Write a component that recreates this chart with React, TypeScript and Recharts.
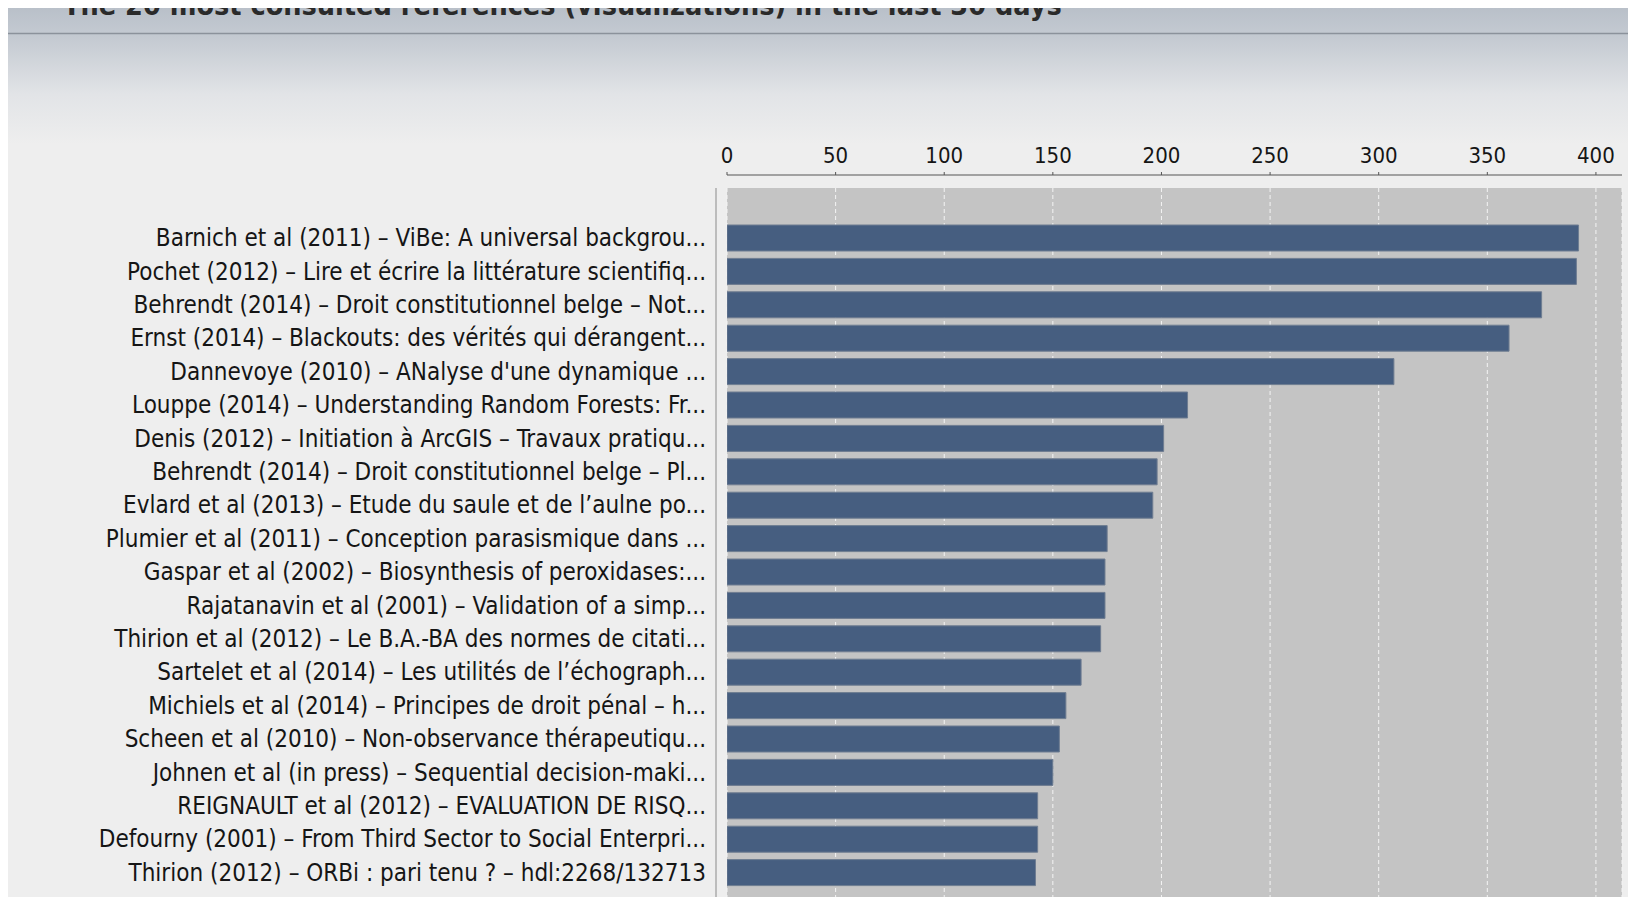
import React from "react";
import { BarChart, Bar, XAxis, YAxis, CartesianGrid } from "recharts";

const chartTitle =
  "The 20 most consulted references (visualizations) in the last 30 days";

const references = [
  "Barnich et al (2011) – ViBe: A universal backgrou...",
  "Pochet (2012) – Lire et écrire la littérature scientifiq...",
  "Behrendt (2014) – Droit constitutionnel belge – Not...",
  "Ernst (2014) – Blackouts: des vérités qui dérangent...",
  "Dannevoye (2010) – ANalyse d'une dynamique ...",
  "Louppe (2014) – Understanding Random Forests: Fr...",
  "Denis (2012) – Initiation à ArcGIS – Travaux pratiqu...",
  "Behrendt (2014) – Droit constitutionnel belge – Pl...",
  "Evlard et al (2013) – Etude du saule et de l’aulne po...",
  "Plumier et al (2011) – Conception parasismique dans ...",
  "Gaspar et al (2002) – Biosynthesis of peroxidases:...",
  "Rajatanavin et al (2001) – Validation of a simp...",
  "Thirion et al (2012) – Le B.A.-BA des normes de citati...",
  "Sartelet et al (2014) – Les utilités de l’échograph...",
  "Michiels et al (2014) – Principes de droit pénal – h...",
  "Scheen et al (2010) – Non-observance thérapeutiqu...",
  "Johnen et al (in press) – Sequential decision-maki...",
  "REIGNAULT et al (2012) – EVALUATION DE RISQ...",
  "Defourny (2001) – From Third Sector to Social Enterpri...",
  "Thirion (2012) – ORBi : pari tenu ? – hdl:2268/132713",
];

const visualizations = [
  392, 391, 375, 360, 307, 212, 201, 198, 196, 175, 174, 174, 172, 163, 156,
  153, 150, 143, 143, 142,
];

const xTicks = [0, 50, 100, 150, 200, 250, 300, 350, 400];

const data = references.map((name, i) => ({ name, views: visualizations[i] }));

const FONT = "'DejaVu Sans Condensed', 'DejaVu Sans', sans-serif";

export default function App() {
  return (
    <div
      style={{
        position: "relative",
        width: 1631,
        height: 889,
        marginLeft: -3,
        overflow: "hidden",
        background: "#eeeeee",
        fontFamily: FONT,
      }}
    >
      <svg
        width={1631}
        height={140}
        style={{ position: "absolute", left: 0, top: 0 }}
      >
        <defs>
          <linearGradient id="hdr" x1="0" y1="0" x2="0" y2="1">
            <stop offset="0%" stopColor="#b9c0c9" />
            <stop offset="100%" stopColor="#c3c9d1" />
          </linearGradient>
          <linearGradient id="fade" x1="0" y1="0" x2="0" y2="1">
            <stop offset="0%" stopColor="#c2c8d0" />
            <stop offset="55%" stopColor="#e2e4e7" />
            <stop offset="100%" stopColor="#eeeeee" />
          </linearGradient>
        </defs>
        <rect x={0} y={0} width={1631} height={25} fill="url(#hdr)" />
        <rect x={0} y={26} width={1631} height={110} fill="url(#fade)" />
        <line x1={0} x2={1631} y1={25.5} y2={25.5} stroke="#8b929b" strokeWidth={1.5} />
        <text
          x={58}
          y={7}
          fontFamily={FONT}
          fontWeight="bold"
          fontSize={28.5}
          fill="#2a2a2a"
        >
          {chartTitle}
        </text>
      </svg>
      <div style={{ position: "absolute", left: 0, top: 0 }}>
        <BarChart
          width={1631}
          height={900}
          data={data}
          layout="vertical"
          margin={{ top: 140, right: 14, bottom: 9, left: 0 }}
        >
          <CartesianGrid
            horizontal={false}
            vertical={true}
            fill="#c4c4c4"
            fillOpacity={1}
            stroke="#f4f4f4"
            strokeDasharray="4 3"
          />
          <XAxis
            type="number"
            orientation="top"
            domain={[0, 412]}
            allowDataOverflow
            ticks={xTicks}
            height={40}
            tickSize={3}
            tickMargin={22}
            axisLine={{ stroke: "#555555", transform: "translate(0,-13)" }}
            tickLine={{ stroke: "#555555", transform: "translate(0,-13)" }}
            tick={{ fill: "#151515", fontSize: 22, fontFamily: FONT }}
          />
          <YAxis
            type="category"
            dataKey="name"
            width={722}
            interval={0}
            padding={{ top: 33, bottom: 10 }}
            axisLine={{ stroke: "#8a8a8a", transform: "translate(-11,0)" }}
            tickLine={false}
            tickSize={0}
            tickMargin={21}
            tick={{ fill: "#151515", fontSize: 24, fontFamily: FONT }}
          />
          <Bar
            dataKey="views"
            barSize={26}
            fill="#465e80"
            stroke="#6f7d91"
            strokeWidth={1}
            isAnimationActive={false}
          />
        </BarChart>
      </div>
    </div>
  );
}
